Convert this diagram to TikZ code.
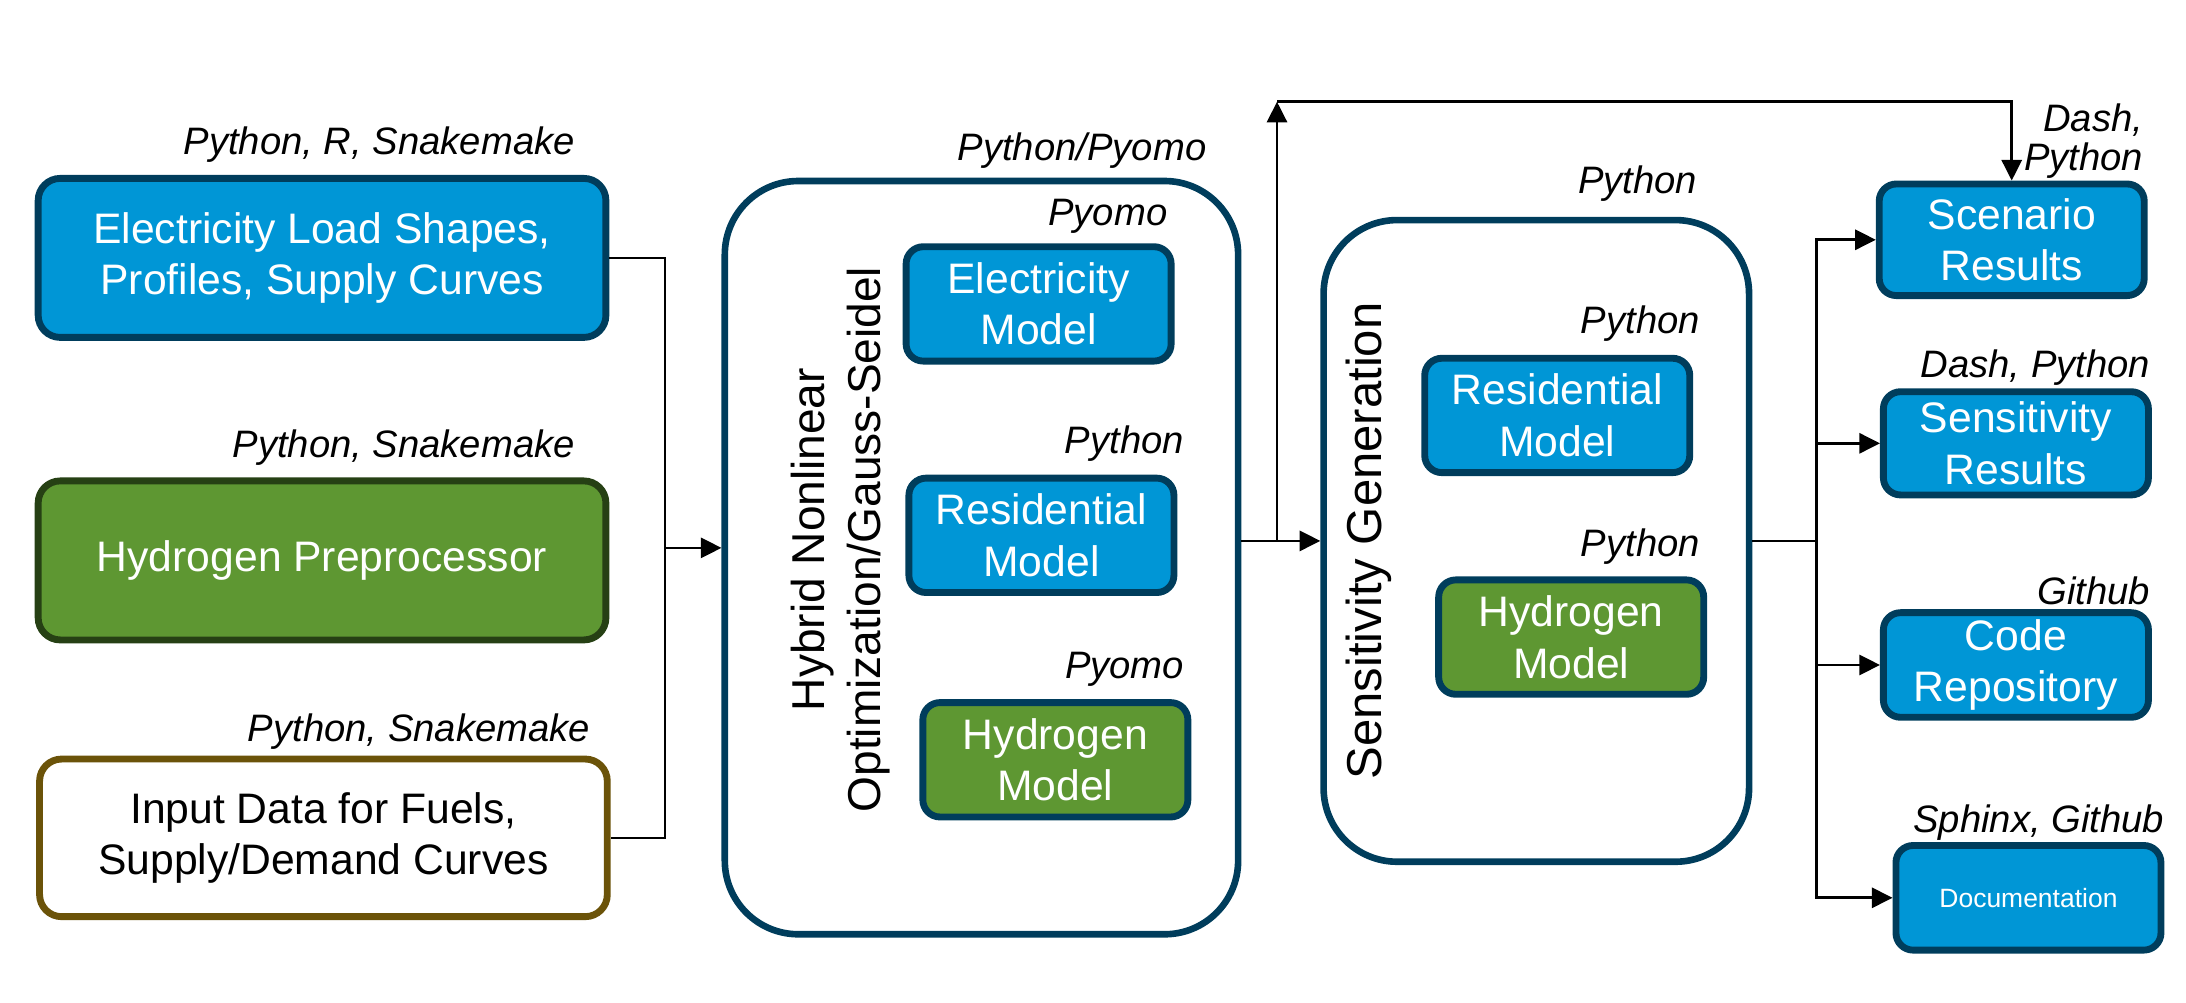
\documentclass[tikz,border=0pt]{standalone}
\usepackage{fontspec}
\setmainfont{Liberation Sans}
\usetikzlibrary{arrows.meta}
\definecolor{navy}{RGB}{0,61,92}
\definecolor{elecblue}{RGB}{0,150,214}
\definecolor{h2green}{RGB}{94,151,50}
\definecolor{h2dark}{RGB}{38,64,20}
\definecolor{fuelbrown}{RGB}{107,83,9}

\begin{document}
\begin{tikzpicture}[x=0.01cm,y=-0.01cm,
    box/.style={rounded corners=4.5pt,line width=1.4pt,align=center,inner sep=0pt,
                font=\fontsize{8.7pt}{10.5pt}\selectfont},
    elecbox/.style={box,draw=navy,fill=elecblue,text=white},
    h2box/.style={box,draw=h2dark,fill=h2green,text=white},
    databox/.style={box,draw=fuelbrown,fill=white,text=black},
    modelbox/.style={box,rounded corners=3.5pt,draw=navy,fill=#1,text=white,
                     minimum width=1.9cm,minimum height=0.82cm},
    frame/.style={draw=navy,line width=1.35pt,rounded corners=15pt,inner sep=0pt},
    sidetext/.style={rotate=90,align=center,inner sep=0pt,
                     font=\fontsize{9.4pt}{11.4pt}\selectfont},
    lang/.style={anchor=east,inner sep=0pt,align=right,
                 font=\fontsize{7.8pt}{7.9pt}\selectfont\itshape},
    wire/.style={line width=0.55pt},
    arr/.style={wire,-{Triangle[length=4.2pt,width=4.1pt]}}
  ]
  \useasboundingbox (0,0) rectangle (1568,719);

  \node[elecbox,minimum width=4.07cm,minimum height=1.14cm] (loads) at (231,185)
    {Electricity Load Shapes,\\Profiles, Supply Curves};
  \node[lang] (loadslang) at (413,104) {Python, R, Snakemake};
  \node[h2box,minimum width=4.07cm,minimum height=1.14cm] (h2pre) at (231,402)
    {Hydrogen Preprocessor};
  \node[lang] (h2prelang) at (413,321) {Python, Snakemake};
  \node[databox,minimum width=4.07cm,minimum height=1.13cm] (inputs) at (232,601)
    {Input Data for Fuels,\\Supply/Demand Curves};
  \node[lang] (inputslang) at (424,525) {Python, Snakemake};

  \node[frame,minimum width=3.68cm,minimum height=5.4cm] (hnlo) at (704,400) {};
  \node[lang] (hnlolang) at (866,108) {Python/Pyomo};
  \node[sidetext] (hnlotext) at (603,387) {Hybrid Nonlinear\\Optimization/Gauss-Seidel};
  \node[modelbox=elecblue] (elecmod) at (745,218) {Electricity\\Model};
  \node[lang] (elecmodlang) at (838,155) {Pyomo};
  \node[modelbox=elecblue] (resmod) at (747,384) {Residential\\Model};
  \node[lang] (resmodlang) at (850,318) {Python};
  \node[modelbox=h2green] (h2mod) at (757,545) {Hydrogen\\Model};
  \node[lang] (h2modlang) at (850,480) {Pyomo};

  \node[frame,minimum width=3.05cm,minimum height=4.6cm] (sens) at (1102,388) {};
  \node[lang] (senslang) at (1218,132) {Python};
  \node[sidetext,font=\fontsize{10pt}{12pt}\selectfont] (senstext) at (982,388)
    {Sensitivity Generation};
  \node[modelbox=elecblue] (sresmod) at (1117,298) {Residential\\Model};
  \node[lang] (sresmodlang) at (1220,232) {Python};
  \node[modelbox=h2green] (sh2mod) at (1127,457) {Hydrogen\\Model};
  \node[lang] (sh2modlang) at (1220,392) {Python};

  \node[modelbox=elecblue,minimum height=0.8cm] (scen) at (1443,172) {Scenario\\Results};
  \node[lang] (scenlang) at (1538,101) {Dash,\\Python};
  \node[modelbox=elecblue,minimum height=0.74cm] (sensres) at (1446,318) {Sensitivity\\Results};
  \node[lang] (sensreslang) at (1543,264) {Dash, Python};
  \node[modelbox=elecblue,minimum height=0.75cm] (code) at (1446,477) {Code\\Repository};
  \node[lang] (codelang) at (1543,424) {Github};
  \node[modelbox=elecblue,minimum height=0.75cm,font=\fontsize{5.4pt}{6pt}\selectfont]
    (docs) at (1455,644) {Documentation};
  \node[lang] (docslang) at (1553,590) {Sphinx, Github};

  \coordinate (join) at (477,393);
  \coordinate (branch) at (916,388);
  \coordinate (loop) at (916,73);
  \coordinate (fan) at (1303,388);

  \draw[wire] (loads.east) -- (loads.east -| join) |- (inputs.east);
  \draw[arr] (join) -- (join -| hnlo.west);
  \draw[arr] (branch -| hnlo.east) -- (branch -| sens.west);
  \draw[arr] (branch) -- (loop);
  \draw[arr] (loop) -| (scen.north);
  \draw[wire] (fan -| sens.east) -- (fan);
  \draw[arr] (fan) |- (scen.west);
  \draw[arr] (fan) |- (sensres.west);
  \draw[arr] (fan) |- (code.west);
  \draw[arr] (fan) |- (docs.west);
\end{tikzpicture}
\end{document}
